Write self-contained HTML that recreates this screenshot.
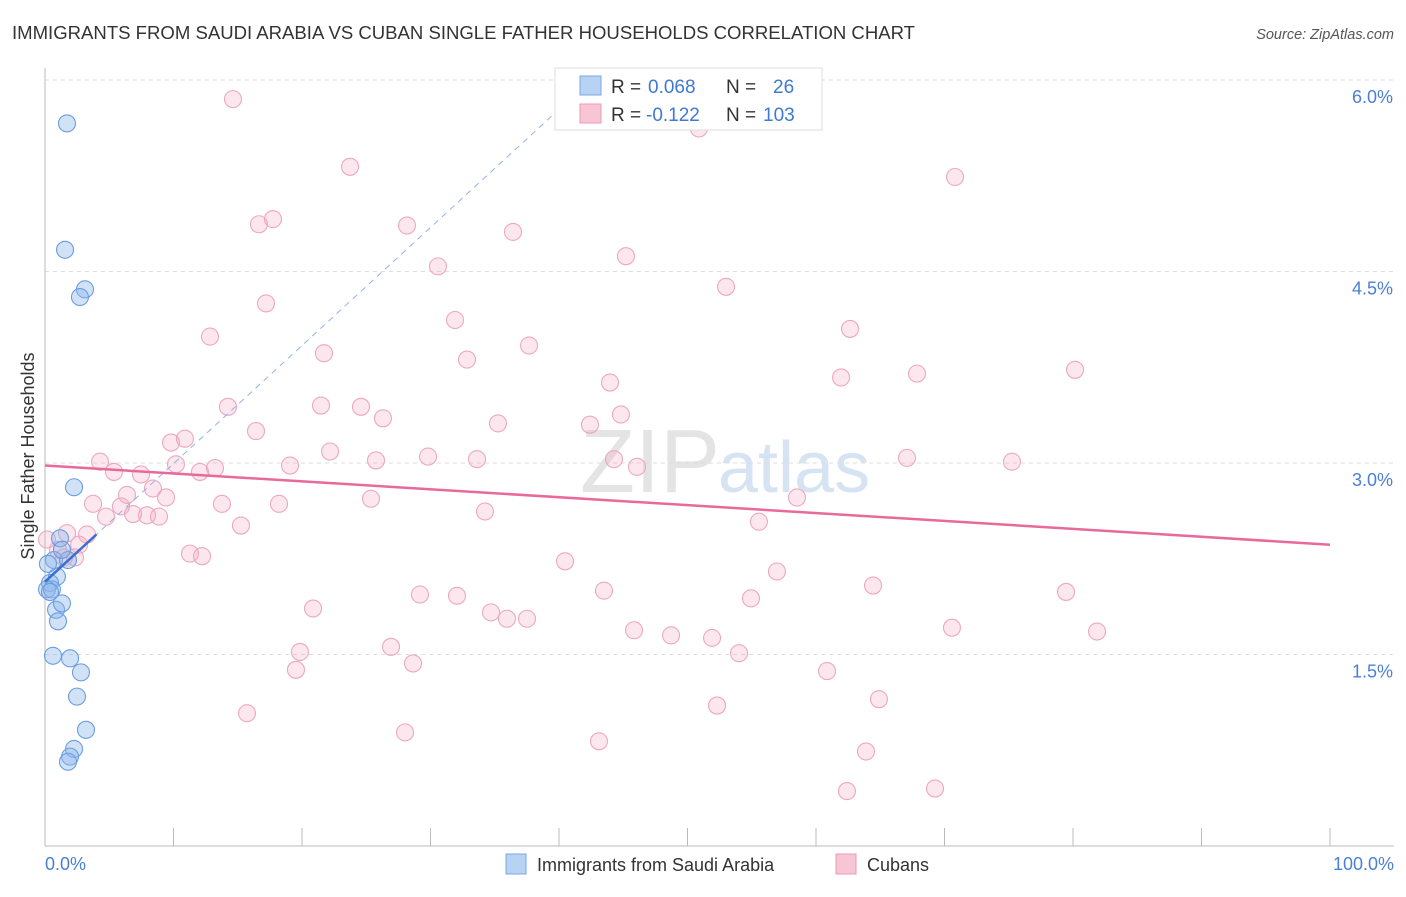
<!DOCTYPE html>
<html><head><meta charset="utf-8"><style>
body{margin:0;background:#fff;font-family:"Liberation Sans",sans-serif}
svg text{font-family:"Liberation Sans",sans-serif}
</style></head><body>
<svg width="1406" height="892" viewBox="0 0 1406 892">
<text x="12" y="39" font-size="18" fill="#333" textLength="903" lengthAdjust="spacingAndGlyphs">IMMIGRANTS FROM SAUDI ARABIA VS CUBAN SINGLE FATHER HOUSEHOLDS CORRELATION CHART</text>
<text x="1394" y="39" font-size="14.5" fill="#555" font-style="italic" text-anchor="end">Source: ZipAtlas.com</text>
<text x="720" y="492" font-size="90" fill="#e4e4e4" text-anchor="end" font-family="Liberation Serif">ZIP</text>
<text x="718" y="492" font-size="72" fill="#d6e3f3">atlas</text>
<g id="grid"></g>
<g id="axes"></g>
<g id="pts"></g>
<g id="trend"></g>
<text transform="translate(34,456) rotate(-90)" font-size="18" fill="#333" text-anchor="middle">Single Father Households</text>
<text x="45" y="870" font-size="18" fill="#4a7fd8">0.0%</text>
<text x="1394" y="870" font-size="18" fill="#4a7fd8" text-anchor="end">100.0%</text>
<g>
<rect x="555" y="68" width="267" height="62" fill="#fff" stroke="#ddd"/>
<rect x="580" y="76" width="21" height="19" fill="#b8d2f4" stroke="#7aa7e4"/>
<rect x="580" y="104" width="21" height="19" fill="#f8c5d5" stroke="#ec9ab6"/>
<text x="611" y="93" font-size="19" fill="#333">R =</text>
<text x="648" y="93" font-size="19" fill="#3f78d6">0.068</text>
<text x="726" y="93" font-size="19" fill="#333">N =</text>
<text x="773" y="93" font-size="19" fill="#3f78d6">26</text>
<text x="611" y="121" font-size="19" fill="#333">R =</text>
<text x="646" y="121" font-size="19" fill="#3f78d6">-0.122</text>
<text x="726" y="121" font-size="19" fill="#333">N =</text>
<text x="763" y="121" font-size="19" fill="#3f78d6">103</text>
</g>
<g>
<rect x="506" y="854" width="20" height="20" fill="#b8d2f4" stroke="#7aa7e4"/>
<text x="537" y="871" font-size="18" fill="#333">Immigrants from Saudi Arabia</text>
<rect x="836" y="854" width="20" height="20" fill="#f8c5d5" stroke="#ec9ab6"/>
<text x="867" y="871" font-size="18" fill="#333">Cubans</text>
</g>
</svg>
<script>
const yTicks=[1.5,3.0,4.5,6.0];
const blueX=[1.71,1.56,3.11,2.72,2.26,1.17,0.70,1.79,0.93,0.39,0.16,0.54,0.86,1.32,1.01,0.62,1.95,2.80,2.49,3.19,2.26,1.95,1.79,0.23,1.32,0.39];
const blueY=[5.66,4.67,4.36,4.30,2.81,2.41,2.24,2.24,2.11,2.06,2.01,2.01,1.85,1.90,1.76,1.49,1.47,1.36,1.17,0.91,0.76,0.70,0.66,2.21,2.32,1.99];
const pinkX=[14.63,50.89,23.74,70.82,17.74,16.65,28.17,36.42,45.21,30.58,53.00,17.20,31.91,62.65,12.84,21.71,37.67,32.84,61.95,67.86,80.16,43.97,14.24,21.48,24.59,26.30,44.82,16.42,35.25,42.41,10.89,9.81,22.18,29.81,33.62,44.28,25.76,67.08,75.25,4.28,10.19,13.23,19.07,46.07,5.37,7.47,12.06,8.40,6.38,9.42,58.52,3.74,5.91,13.77,18.21,25.37,34.24,6.85,8.87,4.75,7.94,15.25,55.56,1.71,3.27,0.16,2.65,1.01,1.48,2.33,11.28,12.22,40.47,56.96,64.44,43.50,29.18,32.06,79.46,54.94,20.86,34.71,35.95,37.51,81.87,45.84,48.72,70.58,51.91,26.93,19.84,54.01,28.64,19.53,60.86,64.90,52.30,15.72,28.02,43.11,63.89,62.41,69.26];
const pinkY=[5.85,5.62,5.32,5.24,4.91,4.87,4.86,4.81,4.62,4.54,4.38,4.25,4.12,4.05,3.99,3.86,3.92,3.81,3.67,3.70,3.73,3.63,3.44,3.45,3.44,3.35,3.38,3.25,3.31,3.30,3.19,3.16,3.09,3.05,3.03,3.03,3.02,3.04,3.01,3.01,2.99,2.96,2.98,2.97,2.93,2.91,2.93,2.80,2.75,2.73,2.73,2.68,2.66,2.68,2.68,2.72,2.62,2.60,2.58,2.58,2.59,2.51,2.54,2.45,2.44,2.40,2.36,2.32,2.26,2.26,2.29,2.27,2.23,2.15,2.04,2.00,1.97,1.96,1.99,1.94,1.86,1.83,1.78,1.78,1.68,1.69,1.65,1.71,1.63,1.56,1.52,1.51,1.43,1.38,1.37,1.15,1.10,1.04,0.89,0.82,0.74,0.43,0.45];
const blueFit=[2.07,0.0925];
const pinkFit=[2.98,-0.0062];
const NS='http://www.w3.org/2000/svg';
const X=v=>45+v*12.85, Y=v=>846-v*127.67;
function mk(t,a,p){const e=document.createElementNS(NS,t);for(const k in a)e.setAttribute(k,a[k]);document.getElementById(p).appendChild(e);return e;}
yTicks.forEach(t=>{
 const g=mk('line',{x1:45,x2:1394,y1:Y(t),y2:Y(t),stroke:'#ddd','stroke-dasharray':'4,4'},'grid');
 
 
 const l=mk('text',{x:1393,y:Y(t)+23,'font-size':18,fill:'#4a7fd8','text-anchor':'end'},'grid');
 l.textContent=t.toFixed(1)+'%';
 
 
});
const ax=mk('line',{x1:45,x2:45,y1:68,y2:846,stroke:'#bbb'},'axes');


const bx=mk('line',{x1:45,x2:1394,y1:846,y2:846,stroke:'#bbb'},'axes');


for(let i=0;i<=10;i++){const t=mk('line',{x1:X(i*10),x2:X(i*10),y1:828,y2:846,stroke:'#bbb'},'axes');
 
 }
pinkX.forEach((x,i)=>{const c=mk('circle',{cx:X(x),cy:Y(pinkY[i]),r:8.5,fill:'rgba(242,160,188,0.25)',stroke:'#eca8c0','stroke-width':1.1},'pts');
 
 });
blueX.forEach((x,i)=>{const c=mk('circle',{cx:X(x),cy:Y(blueY[i]),r:8.5,fill:'rgba(140,182,236,0.4)',stroke:'#6a9de0','stroke-width':1.1},'pts');
 
 });
const xe=(6.0-blueFit[0])/blueFit[1];
const d=mk('line',{x1:X(0),y1:Y(blueFit[0]),x2:X(xe),y2:Y(6.0),stroke:'#8fb3e6','stroke-dasharray':'6,5','stroke-width':1},'trend');


const bs=mk('line',{x1:X(0),y1:Y(blueFit[0]),x2:X(4),y2:Y(blueFit[0]+4*blueFit[1]),stroke:'#3a6fd0','stroke-width':2.5},'trend');


const ps=mk('line',{x1:X(0),y1:Y(pinkFit[0]),x2:X(100),y2:Y(pinkFit[0]+100*pinkFit[1]),stroke:'#e8699a','stroke-width':2.5},'trend');


</script>
</body></html>
